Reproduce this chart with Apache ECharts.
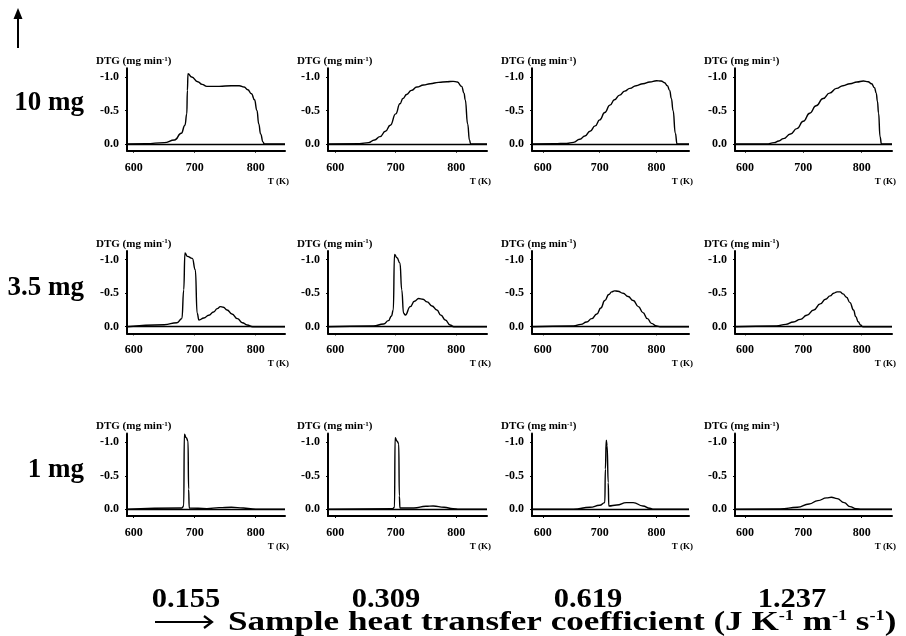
<!DOCTYPE html>
<html><head><meta charset="utf-8">
<script src="https://cdn.jsdelivr.net/npm/echarts@6/dist/echarts.min.js"></script>
<style>html,body{margin:0;padding:0;background:#fff}#c{width:906px;height:636px}</style>
</head><body><div id="c"></div>
<script>
// ---- labels & ticks ----
const massLabels = ['10 mg', '3.5 mg', '1 mg'];
const coeffLabels = ['0.155', '0.309', '0.619', '1.237'];
const xTicks = [600, 700, 800];
const yTicks = [-1.0, -0.5, 0.0];
const xMins = [589, 588, 581, 583];
const xMaxs = [848, 851, 857, 852];

// ---- DTG curves [T (K), DTG (mg/min)] ----
const m10_h0155 = [[589,0],[620,-0.005],[650,-0.02],[667,-0.06],[678,-0.16],[684,-0.28],[687,-0.45],[688,-0.8],[689,-1.05],[695,-1.0],[705,-0.93],[712,-0.89],[720,-0.86],[740,-0.86],[760,-0.87],[773,-0.87],[781,-0.85],[787,-0.81],[793,-0.75],[798,-0.66],[802,-0.5],[805,-0.3],[808,-0.15],[812,-0.03],[814,0],[848,0]];
const m10_h0309 = [[588,0],[640,-0.005],[655,-0.02],[665,-0.06],[674,-0.11],[683,-0.19],[691,-0.28],[700,-0.45],[707,-0.6],[712,-0.68],[718,-0.74],[726,-0.8],[735,-0.85],[746,-0.88],[757,-0.9],[771,-0.92],[785,-0.93],[795,-0.935],[802,-0.925],[809,-0.86],[813,-0.76],[815,-0.66],[819,-0.3],[822,-0.06],[824,0],[851,0]];
const m10_h0619 = [[581,0],[620,-0.003],[642,-0.01],[654,-0.025],[665,-0.07],[674,-0.12],[683,-0.19],[692,-0.27],[700,-0.36],[709,-0.47],[718,-0.58],[726,-0.66],[735,-0.73],[744,-0.79],[753,-0.83],[764,-0.87],[776,-0.9],[788,-0.925],[800,-0.945],[808,-0.94],[814,-0.915],[819,-0.87],[823,-0.8],[826,-0.68],[829,-0.5],[833,-0.16],[836,0],[857,0]];
const m10_h1237 = [[583,0],[637,0],[650,-0.02],[658,-0.045],[666,-0.08],[678,-0.15],[689,-0.23],[700,-0.34],[711,-0.46],[722,-0.57],[734,-0.68],[745,-0.76],[757,-0.83],[768,-0.87],[780,-0.9],[792,-0.925],[803,-0.94],[811,-0.93],[817,-0.9],[822,-0.84],[825,-0.76],[827,-0.64],[829,-0.46],[831.5,-0.11],[834,0],[852,0]];

const m35_h0155 = [[589,0],[650,-0.03],[671,-0.06],[679,-0.12],[682,-0.55],[684,-1.1],[688,-1.05],[696,-1.02],[701,-0.85],[704,-0.2],[707,-0.1],[715,-0.13],[723,-0.17],[731,-0.22],[737,-0.27],[742,-0.3],[747,-0.29],[753,-0.25],[761,-0.19],[770,-0.12],[778,-0.06],[786,-0.025],[795,0],[848,0]];
const m35_h0309 = [[588,0],[663,-0.01],[680,-0.04],[688,-0.09],[693,-0.16],[696,-0.25],[698,-1.08],[702,-1.03],[707,-0.95],[710,-0.55],[713,-0.2],[716,-0.175],[724,-0.3],[731,-0.38],[738,-0.42],[745,-0.41],[752,-0.37],[760,-0.31],[768,-0.25],[775,-0.17],[782,-0.1],[790,-0.025],[796,0],[851,0]];
const m35_h0619 = [[581,0],[654,-0.01],[667,-0.035],[677,-0.07],[686,-0.12],[695,-0.19],[702,-0.28],[709,-0.39],[716,-0.48],[721,-0.52],[726,-0.535],[732,-0.53],[741,-0.5],[750,-0.45],[759,-0.39],[768,-0.3],[776,-0.21],[784,-0.12],[791,-0.05],[800,-0.01],[806,0],[857,0]];
const m35_h1237 = [[583,0],[654,-0.01],[670,-0.035],[683,-0.07],[695,-0.11],[706,-0.17],[718,-0.25],[729,-0.34],[738,-0.41],[746,-0.46],[752,-0.5],[758,-0.52],[763,-0.52],[768,-0.49],[774,-0.44],[780,-0.36],[786,-0.25],[790,-0.15],[794,-0.075],[798,-0.025],[802,0],[852,0]];

const m1_h0155 = [[589,0],[679,-0.02],[682,-0.05],[683,-1.12],[686,-1.07],[689,-1.02],[690,-0.3],[691,-0.02],[720,-0.01],[740,-0.025],[760,-0.03],[780,-0.02],[795,-0.005],[805,0],[848,0]];
const m1_h0309 = [[588,0],[695,-0.01],[698,-0.03],[699,-1.07],[702,-1.02],[705,-0.98],[706,-0.2],[707,-0.02],[730,-0.02],[750,-0.045],[762,-0.05],[780,-0.03],[795,-0.01],[805,0],[851,0]];
const m1_h0619 = [[581,0],[654,0],[683,-0.03],[700,-0.06],[709,-0.1],[710,-0.6],[711.5,-1.03],[713,-0.95],[715,-0.4],[716,-0.05],[730,-0.065],[747,-0.1],[759,-0.1],[776,-0.05],[788,-0.015],[795,0],[857,0]];
const m1_h1237 = [[583,0],[660,-0.005],[690,-0.03],[710,-0.08],[725,-0.13],[740,-0.17],[748,-0.18],[758,-0.16],[770,-0.1],[780,-0.04],[790,-0.01],[800,0],[852,0]];

const panels = [
  [m10_h0155, m10_h0309, m10_h0619, m10_h1237],
  [m35_h0155, m35_h0309, m35_h0619, m35_h1237],
  [m1_h0155, m1_h0309, m1_h0619, m1_h1237]
];

// ---- layout ----
const colLeft = [127, 328, 532, 735];
const colWidth = [158, 159, 157, 157];
const rowTop = [68.3, 251, 433.6];
const rowHeight = 82.4;
const yMin = -1.13, yMax = 0.1;
const FONT = 'Liberation Serif';

const grids = [], xAxes = [], yAxes = [], series = [];
panels.forEach((row, r) => {
  row.forEach((data, c) => {
    const i = grids.length;
    grids.push({left: colLeft[c], top: rowTop[r], width: colWidth[c], height: rowHeight});
    xAxes.push({
      type: 'value', gridIndex: i, min: xMins[c], max: xMaxs[c],
      name: 'T (K)', nameLocation: 'end', nameGap: 4,
      nameTextStyle: {fontFamily: FONT, fontSize: 9, fontWeight: 'bold', color: '#000', align: 'right', verticalAlign: 'top', padding: [26, 0, 0, 0]},
      axisLine: {onZero: false, lineStyle: {color: '#000', width: 2}},
      axisTick: {show: true, length: 2, customValues: xTicks, lineStyle: {color: '#000'}},
      axisLabel: {customValues: xTicks, margin: 11, fontFamily: FONT, fontSize: 12, fontWeight: 'bold', color: '#000'},
      splitLine: {show: false}
    });
    yAxes.push({
      type: 'value', gridIndex: i, min: yMin, max: yMax, inverse: true,
      name: 'DTG (mg min{sup|-1})', nameLocation: 'start', nameGap: 1,
      nameTextStyle: {fontFamily: FONT, fontSize: 11, fontWeight: 'bold', color: '#000', align: 'left', verticalAlign: 'bottom', padding: [0, 0, 0, -31], lineHeight: 12,
        rich: {sup: {fontFamily: FONT, fontSize: 7, fontWeight: 'bold', color: '#000', verticalAlign: 'top'}}},
      axisLine: {onZero: false, lineStyle: {color: '#000', width: 2}},
      axisTick: {show: true, length: 2, customValues: yTicks, lineStyle: {color: '#000'}},
      axisLabel: {customValues: yTicks, margin: 8, fontFamily: FONT, fontSize: 12, fontWeight: 'bold', color: '#000',
        formatter: v => (Math.abs(v) < 1e-9 ? 0 : v).toFixed(1)},
      splitLine: {show: false}
    });
    series.push({
      type: 'line', xAxisIndex: i, yAxisIndex: i, data: data,
      showSymbol: false, smooth: 0.5, smoothMonotone: 'x', silent: true,
      lineStyle: {color: '#000', width: 1.4},
      markLine: {silent: true, symbol: 'none', label: {show: false},
        lineStyle: {color: '#000', width: 1.4, type: 'solid'}, data: [{yAxis: 0}]}
    });
  });
});

const graphics = [];
// mass labels
const massY = [103, 288, 470];
massLabels.forEach((t, r) => graphics.push({type: 'text', x: 84, y: massY[r],
  style: {text: t, font: 'bold 27px "' + FONT + '"', fill: '#000', textAlign: 'right', textVerticalAlign: 'middle'}}));
// coefficient labels
const coeffX = [186, 386, 588, 792];
coeffLabels.forEach((t, c) => graphics.push({type: 'text', x: coeffX[c], y: 600, scaleX: 1.13,
  style: {text: t, font: 'bold 27px "' + FONT + '"', fill: '#000', textAlign: 'center', textVerticalAlign: 'middle'}}));
// up arrow
graphics.push({type: 'line', shape: {x1: 18, y1: 48, x2: 18, y2: 16}, style: {stroke: '#000', lineWidth: 2}});
graphics.push({type: 'polygon', shape: {points: [[18, 8], [13.5, 19], [22.5, 19]]}, style: {fill: '#000'}});
// right arrow
graphics.push({type: 'line', shape: {x1: 155, y1: 622, x2: 210, y2: 622}, style: {stroke: '#000', lineWidth: 2}});
graphics.push({type: 'polyline', shape: {points: [[204, 616], [212, 622], [204, 628]]}, style: {stroke: '#000', lineWidth: 2.2, fill: null}});
// bottom title
graphics.push({type: 'text', x: 228, y: 623, scaleX: 1.3, style: {
  text: 'Sample heat transfer coefficient (J K{s|-1} m{s|-1} s{s|-1})',
  font: 'bold 27px "' + FONT + '"', fill: '#000', textAlign: 'left', textVerticalAlign: 'middle',
  rich: {s: {font: 'bold 14px "' + FONT + '"', fill: '#000', verticalAlign: 'top'}}
}});

const chart = echarts.init(document.getElementById('c'), null, {renderer: 'canvas'});
chart.setOption({
  animation: false,
  backgroundColor: '#fff',
  grid: grids, xAxis: xAxes, yAxis: yAxes, series: series,
  graphic: graphics
});
</script></body></html>
